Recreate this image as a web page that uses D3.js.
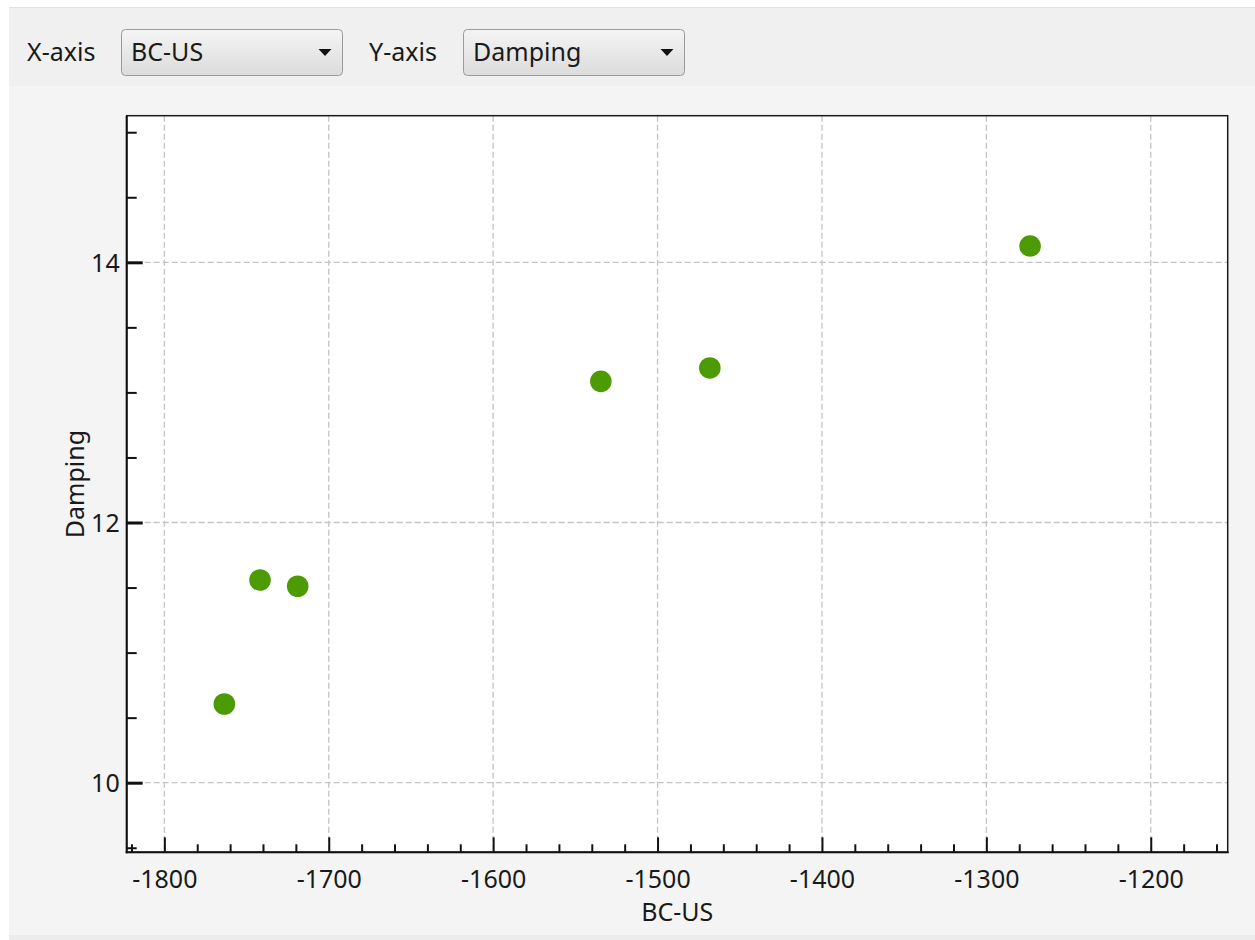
<!DOCTYPE html>
<html><head><meta charset="utf-8">
<script src="https://cdn.jsdelivr.net/npm/d3@7"></script>
<style>
html,body{margin:0;padding:0;background:#fff;}
svg{display:block;font-family:"Noto Sans","Open Sans",sans-serif;}
</style></head>
<body>
<svg id="chart" width="1255" height="940"></svg>
<script>
// ---- data ----
const bcUS    = [-1763.5, -1741.8, -1718.9, -1534.5, -1468.2, -1273.4];
const damping = [10.605, 11.558, 11.510, 13.085, 13.188, 14.125];
const xMajorTicks = [-1800, -1700, -1600, -1500, -1400, -1300, -1200];
const yMajorTicks = [10, 12, 14];
const xAxisChoice = "BC-US";
const yAxisChoice = "Damping";

const svg = d3.select("#chart");
const W = 1255, H = 940;
const FS = 25;

// backgrounds
svg.append("rect").attr("x",0).attr("y",0).attr("width",W).attr("height",H).attr("fill","#ffffff");
svg.append("rect").attr("x",9).attr("y",7).attr("width",W-9).attr("height",929).attr("fill","#f4f4f4");
svg.append("rect").attr("x",9).attr("y",7).attr("width",W-9).attr("height",79).attr("fill","#f0f0f0");
svg.append("line").attr("x1",9).attr("x2",W).attr("y1",7.5).attr("y2",7.5).attr("stroke","#e2e2e2");
svg.append("rect").attr("x",9).attr("y",935).attr("width",W-9).attr("height",5).attr("fill","#ececec");

// toolbar combos
const defs = svg.append("defs");
const grad = defs.append("linearGradient").attr("id","cb").attr("x1",0).attr("x2",0).attr("y1",0).attr("y2",1);
grad.append("stop").attr("offset","0%").attr("stop-color","#f4f4f4");
grad.append("stop").attr("offset","100%").attr("stop-color","#dcdcdc");

function combo(labelX, label, boxX, boxW, value){
  svg.append("text").attr("x",labelX).attr("y",61).attr("font-size",FS).attr("fill","#1a1a1a").text(label);
  svg.append("rect").attr("x",boxX+0.5).attr("y",29.5).attr("width",boxW).attr("height",46)
    .attr("rx",4).attr("fill","url(#cb)").attr("stroke","#9a9a9a");
  svg.append("text").attr("x",boxX+10).attr("y",61).attr("font-size",FS).attr("fill","#1a1a1a").text(value);
  const ax = boxX+boxW-17, ay = 49;
  svg.append("path").attr("d",`M${ax-6.5},${ay} L${ax+6.5},${ay} L${ax},${ay+7} Z`).attr("fill","#111");
}
combo(27, "X-axis", 121, 221, xAxisChoice);
combo(369, "Y-axis", 463, 221, yAxisChoice);

// plot
const L = 126.7, R = 1227.7, T = 115.7, B = 852.3;
const x = d3.scaleLinear().domain([-1822.9, -1153.2]).range([L, R]);
const y = d3.scaleLinear().domain([9.465, 15.127]).range([B, T]);

svg.append("rect").attr("x",L).attr("y",T).attr("width",R-L).attr("height",B-T).attr("fill","#ffffff");

// grid
const grid = svg.append("g").attr("stroke","#c4c4c4").attr("stroke-width",1.3).attr("stroke-dasharray","6,3");
grid.selectAll("line.gx").data(xMajorTicks).join("line")
  .attr("x1",d=>x(d)).attr("x2",d=>x(d)).attr("y1",T).attr("y2",B);
grid.selectAll("line.gy").data(yMajorTicks).join("line")
  .attr("x1",L).attr("x2",R).attr("y1",d=>y(d)).attr("y2",d=>y(d));

// frame
svg.append("rect").attr("x",L).attr("y",T).attr("width",R-L).attr("height",B-T)
  .attr("fill","none").attr("stroke","#1a1a1a").attr("stroke-width",1.5);
svg.append("line").attr("x1",L).attr("x2",L).attr("y1",T).attr("y2",B+1).attr("stroke","#111").attr("stroke-width",2);
svg.append("line").attr("x1",L-1).attr("x2",R+1).attr("y1",B).attr("y2",B).attr("stroke","#111").attr("stroke-width",2);

// x axis ticks (inward) using d3 axis
const xMinor = d3.range(-1820, -1150, 20).filter(v => !xMajorTicks.includes(v));
const xAxisMinor = d3.axisTop(x).tickValues(xMinor).tickSize(8).tickFormat("");
const gxm = svg.append("g").attr("transform",`translate(0,${B})`).call(xAxisMinor);
const xAxisMajor = d3.axisTop(x).tickValues(xMajorTicks).tickSize(15).tickFormat(d3.format("d"));
const gx = svg.append("g").attr("transform",`translate(0,${B})`).call(xAxisMajor);
[gxm, gx].forEach(g => { g.select(".domain").remove(); g.selectAll("line").attr("stroke","#111").attr("stroke-width",2); });
gx.selectAll("text").attr("y",36).attr("dy",0).attr("font-size",FS).attr("fill","#1a1a1a")
  .attr("font-family","Noto Sans").text(d => "-" + Math.abs(d));

// y axis ticks (inward)
const yMinor = d3.range(9.5, 15.01, 0.5).filter(v => !yMajorTicks.includes(v));
const yAxisMinor = d3.axisRight(y).tickValues(yMinor).tickSize(10).tickFormat("");
const gym = svg.append("g").attr("transform",`translate(${L},0)`).call(yAxisMinor);
const yAxisMajor = d3.axisRight(y).tickValues(yMajorTicks).tickSize(16).tickFormat(d3.format("d"));
const gy = svg.append("g").attr("transform",`translate(${L},0)`).call(yAxisMajor);
[gym, gy].forEach(g => { g.select(".domain").remove(); g.selectAll("line").attr("stroke","#111").attr("stroke-width",2); });
gy.selectAll("line").attr("stroke-width",3);
gy.selectAll("text").attr("x",-7).attr("dy","0.35em").attr("text-anchor","end")
  .attr("font-size",FS).attr("fill","#1a1a1a").attr("font-family","Noto Sans");

// titles
svg.append("text").attr("x",(L+R)/2).attr("y",921).attr("text-anchor","middle")
  .attr("font-size",FS).attr("fill","#1a1a1a").text(xAxisChoice);
svg.append("text").attr("transform",`translate(84,${(T+B)/2}) rotate(-90)`).attr("text-anchor","middle")
  .attr("font-size",FS).attr("fill","#1a1a1a").text(yAxisChoice);

// points
svg.append("g").selectAll("circle").data(bcUS.map((v,i)=>({x:v,y:damping[i]}))).join("circle")
  .attr("cx",d=>x(d.x)).attr("cy",d=>y(d.y)).attr("r",10.8).attr("fill","#4c9a04");
</script>
</body></html>
